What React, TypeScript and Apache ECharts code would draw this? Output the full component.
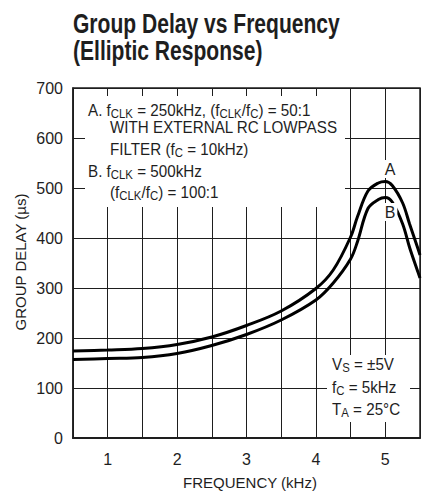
import React, { useEffect, useRef } from "react";
import * as echarts from "echarts";

const freq = [0.5, 1.0, 1.5, 2.0, 2.5, 3.0, 3.5, 4.0, 4.25, 4.5, 4.6, 4.75, 4.9, 5.0, 5.1, 5.25, 5.35, 5.46, 5.5];
const delayA = [174, 176, 179, 187, 202, 225, 254, 299, 336, 402, 443, 494, 510, 513, 505, 470, 428, 383, 366];
const delayB = [157, 159, 161, 169, 185, 207, 236, 276, 310, 358, 393, 459, 477, 481, 472, 428, 381, 336, 320];

const titleLines = ["Group Delay vs Frequency", "(Elliptic Response)"];
const xName = "FREQUENCY (kHz)";
const yName = "GROUP DELAY (µs)";

const noteA = [
  "{n|A. f}{s|CLK}{n| = 250kHz, (f}{s|CLK}{n|/f}{s|C}{n|) = 50:1}",
  "{n|WITH EXTERNAL RC LOWPASS}",
  "{n|FILTER (f}{s|C}{n| = 10kHz)}",
  "{n|B. f}{s|CLK}{n| = 500kHz}",
  "{n|(f}{s|CLK}{n|/f}{s|C}{n|) = 100:1}",
];
const noteCond = [
  "{n|V}{s|S}{n| = ±5V}",
  "{n|f}{s|C}{n| = 5kHz}",
  "{n|T}{s|A}{n| = 25°C}",
];

const FONT = '"Liberation Sans", Arial, sans-serif';
const INK = "#1e1e1e";

const rich = {
  n: { fontSize: 16, lineHeight: 16, fill: INK, fontFamily: FONT, verticalAlign: "middle" },
  s: { fontSize: 12, lineHeight: 10, fill: INK, fontFamily: FONT, padding: [6, 0, 0, 0], verticalAlign: "middle" },
};

function richText(text: string, x: number, y: number) {
  return {
    type: "text",
    x,
    y,
    z: 60,
    scaleX: 0.95,
    style: { text, rich, align: "left", verticalAlign: "middle", fontFamily: FONT, fontSize: 16, fill: INK },
  };
}

export default function App() {
  const ref = useRef<HTMLDivElement>(null);
  useEffect(() => {
    document.body.style.margin = "0";
    const chart = echarts.init(ref.current!, null, { renderer: "svg" });
    const noteAY = [110.5, 127.5, 149, 171, 192];
    const noteAX = [88, 110, 110, 88, 110];
    const condY = [364, 387, 409];
    chart.setOption({
      animation: false,
      backgroundColor: "#fff",
      grid: { left: 73, top: 88, width: 352, height: 350, show: true, borderColor: INK, borderWidth: 1.5, containLabel: false },
      xAxis: {
        type: "value",
        min: 0.5,
        max: 5.5,
        interval: 0.5,
        axisLine: { show: true, onZero: false, lineStyle: { color: INK, width: 2 } },
        axisTick: { show: false },
        axisLabel: {
          margin: 13,
          fontSize: 16,
          fontFamily: FONT,
          color: INK,
          formatter: (v: number) => (Number.isInteger(v) ? String(v) : ""),
        },
        splitLine: { show: true, lineStyle: { color: INK, width: 1 } },
      },
      yAxis: {
        type: "value",
        min: 0,
        max: 700,
        interval: 100,
        axisLine: { show: true, lineStyle: { color: INK, width: 1.5 } },
        axisTick: { show: false },
        axisLabel: { margin: 10, fontSize: 16, fontFamily: FONT, color: INK },
        splitLine: { show: true, lineStyle: { color: INK, width: 1 } },
      },
      series: [
        {
          type: "line",
          name: "A",
          data: freq.map((f, i) => [f, delayA[i]]),
          smooth: 0.35,
          showSymbol: false,
          symbol: "none",
          lineStyle: { color: "#000", width: 3 },
          z: 5,
        },
        {
          type: "line",
          name: "B",
          data: freq.map((f, i) => [f, delayB[i]]),
          smooth: 0.35,
          showSymbol: false,
          symbol: "none",
          lineStyle: { color: "#000", width: 3 },
          z: 5,
        },
      ],
      graphic: [
        {
          type: "text", x: 73, y: 23.3, scaleX: 0.78, z: 60,
          style: { text: titleLines[0], fontSize: 27, fontWeight: "bold", fontFamily: FONT, fill: INK, align: "left", verticalAlign: "middle" },
        },
        {
          type: "text", x: 73, y: 51, scaleX: 0.78, z: 60,
          style: { text: titleLines[1], fontSize: 27, fontWeight: "bold", fontFamily: FONT, fill: INK, align: "left", verticalAlign: "middle" },
        },
        {
          type: "text", x: 250, y: 482, z: 60,
          style: { text: xName, fontSize: 15, fontFamily: FONT, fill: INK, align: "center", verticalAlign: "middle" },
        },
        {
          type: "text", x: 20, y: 262, rotation: Math.PI / 2, z: 60,
          style: { text: yName, fontSize: 15, fontFamily: FONT, fill: INK, align: "center", verticalAlign: "middle" },
        },
        { type: "rect", z: 55, shape: { x: 85, y: 96, width: 260, height: 111 }, style: { fill: "#fff" } },
        ...noteA.map((t, i) => richText(t, noteAX[i], noteAY[i])),
        { type: "rect", z: 55, shape: { x: 327, y: 355, width: 83, height: 67 }, style: { fill: "#fff" } },
        ...noteCond.map((t, i) => richText(t, 332, condY[i])),
        {
          type: "text", x: 390, y: 169, z: 60,
          style: { text: "A", fontSize: 16, fontFamily: FONT, fill: INK, align: "center", verticalAlign: "middle", backgroundColor: "#fff", padding: [1, 2, 1, 2] },
        },
        {
          type: "text", x: 390, y: 212, z: 60,
          style: { text: "B", fontSize: 16, fontFamily: FONT, fill: INK, align: "center", verticalAlign: "middle", backgroundColor: "#fff", padding: [1, 2, 1, 2] },
        },
      ],
    });
    return () => chart.dispose();
  }, []);
  return <div ref={ref} style={{ width: 423, height: 493 }} />;
}
